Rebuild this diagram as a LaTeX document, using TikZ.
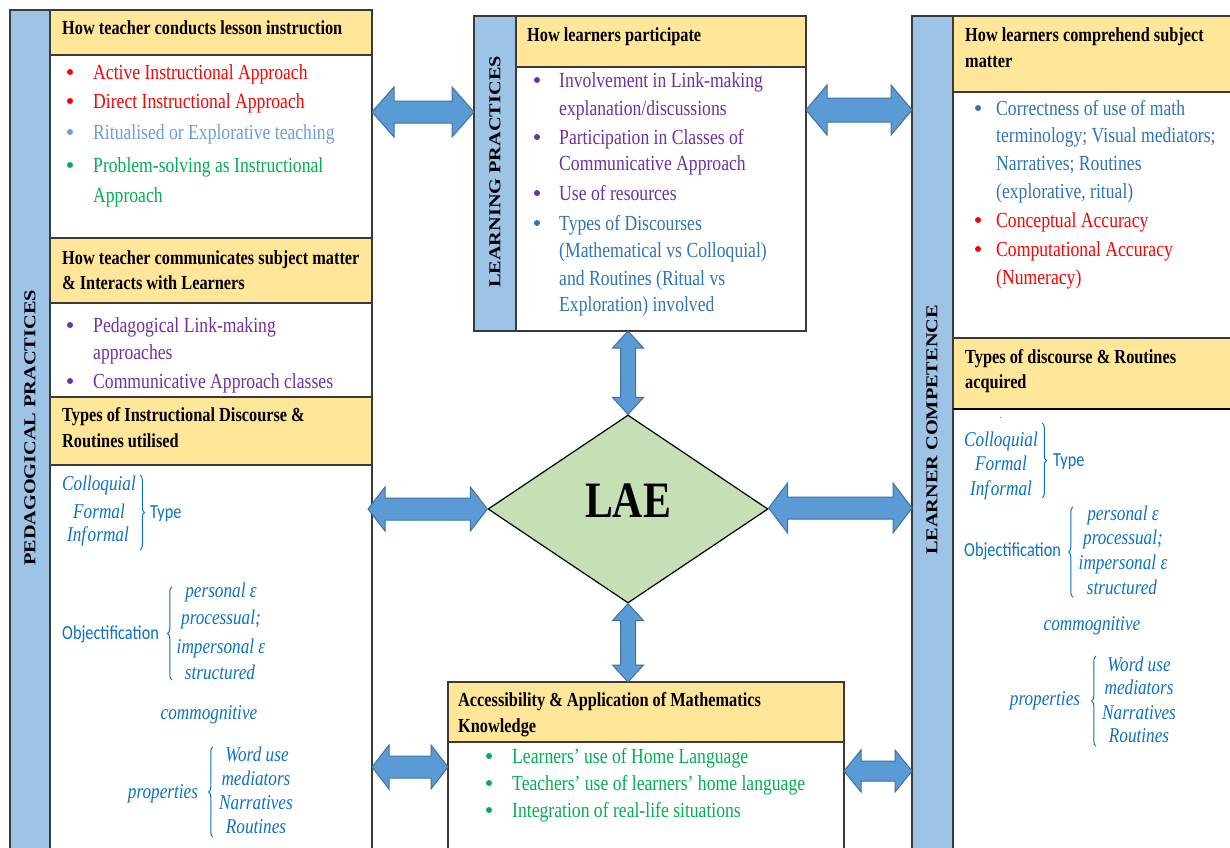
\documentclass[tikz,border=0pt]{standalone}
\usepackage{fontspec}
\usepackage{graphicx}
\usetikzlibrary{shapes.geometric,calc,decorations.pathreplacing}
\setmainfont[FakeStretch=0.82]{Liberation Serif}
\newfontfamily\plainserif{Liberation Serif}
\newfontfamily\calibrifont[FakeStretch=0.82]{Carlito}

\definecolor{hdryellow}{HTML}{FFE699}
\definecolor{stripblue}{HTML}{9DC3E6}
\definecolor{framegray}{HTML}{3A3A3A}
\definecolor{arrowblue}{HTML}{5B9BD5}
\definecolor{arrowedge}{HTML}{41719C}
\definecolor{laegreen}{HTML}{C5E0B4}
\definecolor{itemred}{HTML}{FF0000}
\definecolor{itemgreen}{HTML}{00B050}
\definecolor{itempurple}{HTML}{7030A0}
\definecolor{itemblue}{HTML}{2E75B6}
\definecolor{itemlightblue}{HTML}{6A9FD8}
\definecolor{mathblue}{HTML}{0A72C2}

% horizontal double block arrow: left end, right end, y, head length, shaft half width, head half width
\newcommand\hbarrow[6]{%
  \draw[blockarrow] let \p1=#1, \p2=#2, \p3=(0,#3) in
    (\x1,\y3) -- (\x1+#4pt,\y3+#6pt) -- (\x1+#4pt,\y3+#5pt) -- (\x2-#4pt,\y3+#5pt)
    -- (\x2-#4pt,\y3+#6pt) -- (\x2,\y3) -- (\x2-#4pt,\y3-#6pt) -- (\x2-#4pt,\y3-#5pt)
    -- (\x1+#4pt,\y3-#5pt) -- (\x1+#4pt,\y3-#6pt) -- cycle;}
% vertical double block arrow: upper end, lower end, x, head length, shaft half width, head half width
\newcommand\vbarrow[6]{%
  \draw[blockarrow] let \p1=#1, \p2=#2, \p3=(#3,0) in
    (\x3,\y1) -- (\x3+#6pt,\y1-#4pt) -- (\x3+#5pt,\y1-#4pt) -- (\x3+#5pt,\y2+#4pt)
    -- (\x3+#6pt,\y2+#4pt) -- (\x3,\y2) -- (\x3-#6pt,\y2+#4pt) -- (\x3-#5pt,\y2+#4pt)
    -- (\x3-#5pt,\y1-#4pt) -- (\x3-#6pt,\y1-#4pt) -- cycle;}

\begin{document}
\begin{tikzpicture}[x=1pt,y=-1pt,
  frame/.style={draw=framegray, line width=1.2pt, inner sep=0pt, outer sep=0pt, anchor=north west},
  strip/.style={frame, fill=stripblue},
  panel/.style={frame, fill=white},
  hdr/.style={frame, fill=hdryellow},
  htext/.style={anchor=west, inner sep=0pt, yshift=-2.5pt, font=\bfseries\fontsize{19.9}{24}\selectfont, text height=13pt, text depth=4pt},
  itext/.style={anchor=west, inner sep=0pt, yshift=-2pt, font=\fontsize{21.5}{26}\selectfont, text height=14pt, text depth=4pt},
  mtext/.style={inner sep=0pt, yshift=-1.5pt, font=\itshape\fontsize{21}{25}\selectfont, text=mathblue, text height=14pt, text depth=4pt},
  ctext/.style={anchor=west, inner sep=0pt, yshift=-1.5pt, font=\calibrifont\fontsize{19.9}{24}\selectfont, text=mathblue, text height=13pt, text depth=4pt},
  vlabel/.style={inner sep=0pt, rotate=90, font=\plainserif\bfseries\fontsize{20.3}{24}\selectfont},
  brc/.style={draw=mathblue, line width=1pt, decorate, decoration={brace, amplitude=4.5pt}},
  blockarrow/.style={fill=arrowblue, draw=arrowedge, line width=1pt, line join=miter},
  dot/.style={circle, inner sep=0pt, minimum size=6pt}
]
\useasboundingbox (0,0) rectangle (1230,847);
\fill[white] (0,0) rectangle (1230,847);

% ---------------- pedagogical practices column ----------------
\node[strip, minimum width=40pt, minimum height=850pt] (pedStrip) at (10,10) {};
\node[panel, minimum width=322pt, minimum height=850pt] (pedBox) at (50,10) {};
\node[hdr, minimum width=322pt, minimum height=45pt] (pedH1) at (50,10) {};
\node[hdr, minimum width=322pt, minimum height=65pt] (pedH2) at (50,238) {};
\node[hdr, minimum width=322pt, minimum height=68pt] (pedH3) at (50,397) {};
\node[vlabel] (pedLabel) at (30,428) {\scalebox{1}[0.82]{PEDAGOGICAL PRACTICES}};

\node[htext] (pedH1a) at (62,27) {How teacher conducts lesson instruction};
\node[dot, fill=itemred] (pd1) at (70,72) {};
\node[itext, text=itemred] (p1) at (93,72) {Active Instructional Approach};
\node[dot, fill=itemred] (pd2) at (70,101) {};
\node[itext, text=itemred] (p2) at (93,101) {Direct Instructional Approach};
\node[dot, fill=itemlightblue] (pd3) at (70,132) {};
\node[itext, text=itemlightblue] (p3) at (93,132) {Ritualised or Explorative teaching};
\node[dot, fill=itemgreen] (pd4) at (70,165) {};
\node[itext, text=itemgreen] (p4a) at (93,165) {Problem-solving as Instructional};
\node[itext, text=itemgreen] (p4b) at (93,195) {Approach};

\node[htext] (pedH2a) at (62,257) {How teacher communicates subject matter};
\node[htext] (pedH2b) at (62,282) {\& Interacts with Learners};
\node[dot, fill=itempurple] (pd5) at (70,325) {};
\node[itext, text=itempurple] (p5a) at (93,325) {Pedagogical Link-making};
\node[itext, text=itempurple] (p5b) at (93,352) {approaches};
\node[dot, fill=itempurple] (pd6) at (70,381) {};
\node[itext, text=itempurple] (p6) at (93,381) {Communicative Approach classes};

\node[htext] (pedH3a) at (62,414) {Types of Instructional Discourse \&};
\node[htext] (pedH3b) at (62,440) {Routines utilised};

\node[mtext] (pcol) at (99,484) {Colloquial};
\node[mtext] (pfor) at (99,512) {Formal};
\node[mtext] (pinf) at (98,535) {Inf\kern1.5pt ormal};
\draw[brc] (140,475) -- (140,550);
\node[ctext] (ptype) at (150,512) {Type};
\node[ctext] (pobj) at (62,633) {Objectification};
\draw[brc] (172,680) -- (172,587);
\node[mtext] (pper) at (221,591) {personal ε};
\node[mtext] (ppro) at (221,618) {processual;};
\node[mtext] (pimp) at (221,647) {impersonal ε};
\node[mtext] (pstr) at (220,673) {structured};
\node[mtext] (pcom) at (209,713) {commognitive};
\node[mtext] (pprop) at (163,792) {properties};
\draw[brc] (213,837) -- (213,747);
\node[mtext] (pword) at (257,755) {Word use};
\node[mtext] (pmed) at (256,779) {mediators};
\node[mtext] (pnar) at (256,803) {Narratives};
\node[mtext] (prou) at (256,827) {Routines};

% ---------------- learning practices column ----------------
\node[strip, minimum width=42pt, minimum height=315pt] (lpStrip) at (474,16) {};
\node[panel, minimum width=290pt, minimum height=315pt] (lpBox) at (516,16) {};
\node[hdr, minimum width=290pt, minimum height=51pt] (lpH) at (516,16) {};
\node[vlabel] (lpLabel) at (495,172) {\scalebox{1}[0.82]{LEARNING PRACTICES}};
\node[htext] (lpHa) at (527,34) {How learners participate};
\node[dot, fill=itempurple] (ld1) at (537,80) {};
\node[itext, text=itempurple] (l1a) at (559,80) {Involvement in Link-making};
\node[itext, text=itempurple] (l1b) at (559,108) {explanation/discussions};
\node[dot, fill=itempurple] (ld2) at (537,137) {};
\node[itext, text=itempurple] (l2a) at (559,137) {Participation in Classes of};
\node[itext, text=itempurple] (l2b) at (559,163) {Communicative Approach};
\node[dot, fill=itempurple] (ld3) at (537,193) {};
\node[itext, text=itempurple] (l3) at (559,193) {Use of resources};
\node[dot, fill=itemblue] (ld4) at (537,223) {};
\node[itext, text=itemblue] (l4a) at (559,223) {Types of Discourses};
\node[itext, text=itemblue] (l4b) at (559,250) {(Mathematical vs Colloquial)};
\node[itext, text=itemblue] (l4c) at (559,278) {and Routines (Ritual vs};
\node[itext, text=itemblue] (l4d) at (559,304) {Exploration) involved};

% ---------------- learner competence column ----------------
\node[strip, minimum width=41pt, minimum height=850pt] (lcStrip) at (912,16) {};
\node[panel, minimum width=300pt, minimum height=850pt] (lcBox) at (953,16) {};
\node[hdr, minimum width=300pt, minimum height=76pt] (lcH1) at (953,16) {};
\node[hdr, minimum width=300pt, minimum height=71pt] (lcH2) at (953,338) {};
\draw[line width=2.2pt, black] (lcH2.south west) -- (lcH2.south east);
\node[vlabel] (lcLabel) at (932,430) {\scalebox{1}[0.82]{LEARNER COMPETENCE}};

\node[htext] (lcH1a) at (965,34) {How learners comprehend subject};
\node[htext] (lcH1b) at (965,60) {matter};
\node[dot, fill=itemblue] (rd1) at (978,108) {};
\node[itext, text=itemblue] (r1a) at (996,108) {Correctness of use of math};
\node[itext, text=itemblue] (r1b) at (996,135) {terminology; Visual mediators;};
\node[itext, text=itemblue] (r1c) at (996,163) {Narratives; Routines};
\node[itext, text=itemblue] (r1d) at (996,191) {(explorative, ritual)};
\node[dot, fill=itemred] (rd2) at (978,220) {};
\node[itext, text=itemred] (r2) at (996,220) {Conceptual Accuracy};
\node[dot, fill=itemred] (rd3) at (978,249) {};
\node[itext, text=itemred] (r3a) at (996,249) {Computational Accuracy};
\node[itext, text=itemred] (r3b) at (996,277) {(Numeracy)};

\node[htext] (lcH2a) at (965,356) {Types of discourse \& Routines};
\node[htext] (lcH2b) at (965,381) {acquired};

\node[inner sep=0pt, font=\fontsize{10}{10}\selectfont, text=black!70] (rstray) at (1001,418) {.};
\node[mtext] (rcol) at (1001,440) {Colloquial};
\node[mtext] (rfor) at (1001,464) {Formal};
\node[mtext] (rinf) at (1001,489) {Inf\kern1.5pt ormal};
\draw[brc] (1042,423) -- (1042,498);
\node[ctext] (rtype) at (1053,460) {Type};
\node[ctext] (robj) at (964,550) {Objectification};
\draw[brc] (1073,597) -- (1073,507);
\node[mtext] (rper) at (1123,514) {personal ε};
\node[mtext] (rpro) at (1123,538) {processual;};
\node[mtext] (rimp) at (1123,563) {impersonal ε};
\node[mtext] (rstr) at (1122,588) {structured};
\node[mtext] (rcom) at (1092,624) {commognitive};
\node[mtext] (rprop) at (1045,699) {properties};
\draw[brc] (1096,746) -- (1096,656);
\node[mtext] (rword) at (1139,665) {Word use};
\node[mtext] (rmed) at (1139,688) {mediators};
\node[mtext] (rnar) at (1139,713) {Narratives};
\node[mtext] (rrou) at (1139,736) {Routines};

% ---------------- accessibility box ----------------
\node[panel, minimum width=396pt, minimum height=170pt] (accBox) at (448,682) {};
\node[hdr, minimum width=396pt, minimum height=60pt] (accH) at (448,682) {};
\node[htext] (accHa) at (458,699) {Accessibility \& Application of Mathematics};
\node[htext] (accHb) at (458,725) {Knowledge};
\node[dot, fill=itemgreen] (ad1) at (489,756) {};
\node[itext, text=itemgreen] (a1) at (512,756) {Learners’ use of Home Language};
\node[dot, fill=itemgreen] (ad2) at (489,783) {};
\node[itext, text=itemgreen] (a2) at (512,783) {Teachers’ use of learners’ home language};
\node[dot, fill=itemgreen] (ad3) at (489,810) {};
\node[itext, text=itemgreen] (a3) at (512,810) {Integration of real-life situations};

% ---------------- central LAE diamond ----------------
\node[diamond, draw=black, line width=1.2pt, fill=laegreen, minimum width=280pt,
      minimum height=188pt, inner sep=0pt] (lae) at (628,509) {};
\node[inner sep=0pt, font=\bfseries\fontsize{51}{55}\selectfont] (laeText) at (628,501) {LAE};

% ---------------- connecting block arrows ----------------
\hbarrow{(pedBox.east)}{(lpStrip.west)}{112}{22}{11}{25}
\hbarrow{(lpBox.east)}{(lcStrip.west)}{110}{21}{12}{25}
\hbarrow{([xshift=-4pt]pedBox.east)}{(lae.west)}{509}{17}{11}{22}
\hbarrow{(lae.east)}{(lcStrip.west)}{508}{19}{11}{25}
\hbarrow{(pedBox.east)}{(accBox.west)}{767}{17}{11}{22}
\hbarrow{(accBox.east)}{(lcStrip.west)}{771}{17}{10}{21}
\vbarrow{(lpBox.south)}{(lae.north)}{628}{17}{7.5}{15.5}
\vbarrow{(lae.south)}{(accBox.north)}{628}{17}{7.5}{15.5}
\end{tikzpicture}
\end{document}
